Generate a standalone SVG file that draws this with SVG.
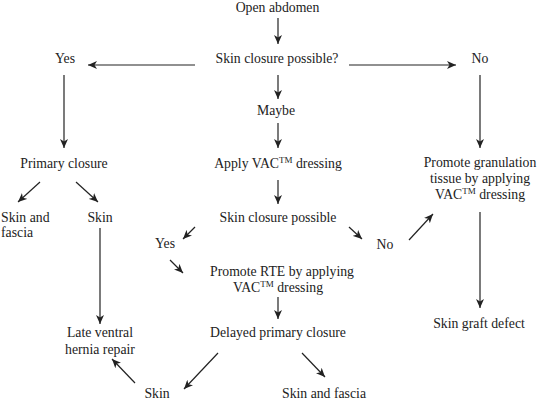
<svg xmlns="http://www.w3.org/2000/svg" width="537" height="400" viewBox="0 0 537 400">
<defs>
<marker id="ah" markerWidth="10" markerHeight="8" refX="9" refY="4" orient="auto" markerUnits="userSpaceOnUse">
<path d="M0,0 L9,4 L0,8 L2.5,4 z" fill="#222"/>
</marker>
<style>
text{font-family:"Liberation Serif","Times New Roman",serif;font-size:13.75px;fill:#222;text-anchor:middle}
.l{text-anchor:start}
.c line{stroke:#222;stroke-width:1.2;marker-end:url(#ah)}
.sup{font-size:9px}
</style>
</defs>
<rect width="537" height="400" fill="#fff"/>
<g class="c" id="connectors">
<line x1="278" y1="18" x2="278" y2="44"/>
<line x1="195" y1="65" x2="88" y2="65"/>
<line x1="349" y1="65" x2="456" y2="65"/>
<line x1="278" y1="75" x2="278" y2="99"/>
<line x1="278" y1="123" x2="278" y2="148"/>
<line x1="64" y1="75" x2="64" y2="148"/>
<line x1="480" y1="75" x2="480" y2="148"/>
<line x1="40" y1="182" x2="18" y2="202"/>
<line x1="76" y1="182" x2="98" y2="202"/>
<line x1="278" y1="180" x2="278" y2="204"/>
<line x1="100" y1="228" x2="100" y2="324"/>
<line x1="195" y1="227" x2="183" y2="239"/>
<line x1="170" y1="260" x2="183" y2="273"/>
<line x1="349" y1="227" x2="362" y2="239"/>
<line x1="409" y1="240" x2="433" y2="214"/>
<line x1="480" y1="212" x2="480" y2="308"/>
<line x1="278" y1="297" x2="278" y2="319"/>
<line x1="218" y1="353" x2="184" y2="389"/>
<line x1="302" y1="353" x2="325" y2="377"/>
<line x1="135" y1="383" x2="112" y2="359"/>
</g>
<g id="open"><text x="277.5" y="12">Open abdomen</text></g>
<g id="q1"><text x="277" y="63">Skin closure possible?</text></g>
<g id="yes1"><text x="65" y="63">Yes</text></g>
<g id="no1"><text x="480" y="63">No</text></g>
<g id="maybe"><text x="276" y="115">Maybe</text></g>
<g id="apply"><text x="278" y="168">Apply VAC<tspan class="sup" dy="-5">TM</tspan><tspan dy="5"> dressing</tspan></text></g>
<g id="primary"><text x="64" y="168">Primary closure</text></g>
<g id="granulation"><text x="480" y="167">Promote granulation</text><text x="480" y="183">tissue by applying</text><text x="480" y="199">VAC<tspan class="sup" dy="-5">TM</tspan><tspan dy="5"> dressing</tspan></text></g>
<g id="skinfascia1"><text class="l" x="1" y="222">Skin and</text><text class="l" x="1" y="237">fascia</text></g>
<g id="skin1"><text x="100" y="222">Skin</text></g>
<g id="q2"><text x="278" y="222">Skin closure possible</text></g>
<g id="yes2"><text x="165" y="248">Yes</text></g>
<g id="no2"><text x="385" y="249">No</text></g>
<g id="rte"><text x="282" y="276">Promote RTE by applying</text><text x="278" y="292">VAC<tspan class="sup" dy="-5">TM</tspan><tspan dy="5">  dressing</tspan></text></g>
<g id="delayed"><text x="278" y="337">Delayed primary closure</text></g>
<g id="late"><text x="100" y="337">Late ventral</text><text x="100" y="354">hernia repair</text></g>
<g id="graft"><text x="479" y="328">Skin graft defect</text></g>
<g id="skin2"><text x="157" y="398">Skin</text></g>
<g id="skinfascia2"><text x="324" y="398">Skin and fascia</text></g>
</svg>
